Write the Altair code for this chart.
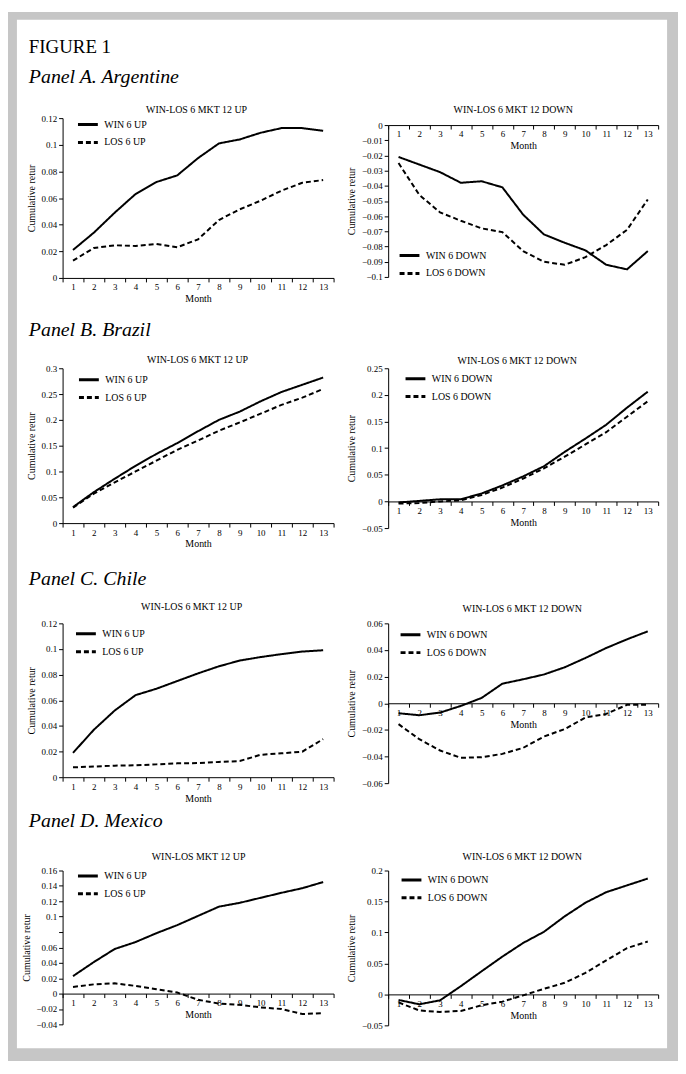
import altair as alt
import pandas as pd

FONT = "Liberation Serif"
FRAME = "#c6c6c6"

months = list(range(1, 14))

# ---- data (cumulative returns by month) ----
arg_up_win = [0.021, 0.034, 0.049, 0.063, 0.072, 0.077, 0.090, 0.101, 0.104, 0.109, 0.1125, 0.1125, 0.1105]
arg_up_los = [0.013, 0.0225, 0.0245, 0.024, 0.0255, 0.023, 0.029, 0.0435, 0.0515, 0.058, 0.0655, 0.0715, 0.0735]
arg_dn_win = [-0.021, -0.026, -0.031, -0.038, -0.037, -0.041, -0.059, -0.072, -0.0775, -0.0825, -0.092, -0.095, -0.083]
arg_dn_los = [-0.025, -0.046, -0.0575, -0.063, -0.068, -0.0705, -0.083, -0.090, -0.092, -0.087, -0.079, -0.069, -0.049]
bra_up_win = [0.031, 0.060, 0.086, 0.111, 0.134, 0.155, 0.178, 0.200, 0.216, 0.236, 0.254, 0.268, 0.282]
bra_up_los = [0.030, 0.057, 0.079, 0.100, 0.121, 0.142, 0.160, 0.179, 0.195, 0.212, 0.229, 0.243, 0.260]
bra_dn_win = [-0.002, 0.001, 0.004, 0.004, 0.015, 0.030, 0.047, 0.066, 0.093, 0.118, 0.144, 0.176, 0.206]
bra_dn_los = [-0.004, -0.003, 0.000, 0.002, 0.012, 0.026, 0.043, 0.062, 0.084, 0.107, 0.130, 0.159, 0.188]
chi_up_win = [0.019, 0.037, 0.052, 0.064, 0.069, 0.075, 0.081, 0.0865, 0.091, 0.0937, 0.096, 0.098, 0.099]
chi_up_los = [0.0077, 0.0083, 0.009, 0.0093, 0.010, 0.0108, 0.011, 0.0119, 0.0126, 0.0175, 0.0186, 0.0199, 0.0297]
chi_dn_win = [-0.0075, -0.009, -0.007, -0.002, 0.004, 0.0147, 0.018, 0.0216, 0.027, 0.034, 0.0415, 0.048, 0.054]
chi_dn_los = [-0.0157, -0.027, -0.0355, -0.041, -0.0405, -0.038, -0.0335, -0.025, -0.0194, -0.0107, -0.008, -0.0012, -0.0012]
mex_up_win = [0.0227, 0.041, 0.058, 0.067, 0.0785, 0.089, 0.101, 0.113, 0.118, 0.1245, 0.131, 0.137, 0.145]
mex_up_los = [0.0086, 0.012, 0.0133, 0.010, 0.0056, 0.0013, -0.008, -0.013, -0.0146, -0.018, -0.020, -0.0266, -0.0253]
mex_dn_win = [-0.009, -0.016, -0.0096, 0.0133, 0.0373, 0.061, 0.083, 0.101, 0.126, 0.148, 0.165, 0.176, 0.187]
mex_dn_los = [-0.013, -0.026, -0.0283, -0.0267, -0.0176, -0.0117, -0.0016, 0.009, 0.0187, 0.0347, 0.055, 0.0747, 0.0853]

# ---- labels ----
up_labels = ["WIN 6 UP", "LOS 6 UP"]
down_labels = ["WIN 6 DOWN", "LOS 6 DOWN"]
panel_titles = ["Panel A. Argentine", "Panel B. Brazil", "Panel C. Chile", "Panel D. Mexico"]
figure_title = "FIGURE 1"
sub_titles = ["WIN-LOS 6 MKT 12 UP", "WIN-LOS 6 MKT 12 DOWN",
              "WIN-LOS 6 MKT 12 UP", "WIN-LOS 6 MKT 12 DOWN",
              "WIN-LOS 6 MKT 12 UP", "WIN-LOS 6 MKT 12 DOWN",
              "WIN-LOS MKT 12 UP", "WIN-LOS 6 MKT 12 DOWN"]

ticks_arg_up = [0, 0.02, 0.04, 0.06, 0.08, 0.1, 0.12]
ticks_arg_dn = [-0.1, -0.09, -0.08, -0.07, -0.06, -0.05, -0.04, -0.03, -0.02, -0.01, 0]
ticks_bra_up = [0, 0.05, 0.1, 0.15, 0.2, 0.25, 0.3]
ticks_bra_dn = [-0.05, 0, 0.05, 0.1, 0.15, 0.2, 0.25]
ticks_chi_up = [0, 0.02, 0.04, 0.06, 0.08, 0.1, 0.12]
ticks_chi_dn = [-0.06, -0.04, -0.02, 0, 0.02, 0.04, 0.06]
ticks_mex_up = [-0.04, -0.02, 0, 0.02, 0.04, 0.06, 0.08, 0.1, 0.12, 0.14, 0.16]
ticks_mex_dn = [-0.05, 0, 0.05, 0.1, 0.15, 0.2]

one = pd.DataFrame({"k": [0]})
LEFT_W, RIGHT_W = 273, 272


def text_layer(txt, x, y, size, align="left", italic=False):
    return alt.Chart(one).mark_text(
        font=FONT, fontSize=size, align=align, baseline="alphabetic",
        color="black", fontStyle="italic" if italic else "normal"
    ).encode(x=alt.value(x), y=alt.value(y), text=alt.value(txt))


def frame_layer(x1, x2, y1, y2):
    return alt.Chart(one).mark_rect(color=FRAME, strokeWidth=0).encode(
        x=alt.value(x1), x2=alt.value(x2), y=alt.value(y1), y2=alt.value(y2))


def panel(win, los, labels, sub_title, ymin, ymax, yticks, width, cell_h,
          r_top, r_h, title_x, title_y, leg_x, leg_y, extra=(), hide=None):
    df = pd.DataFrame({
        "Month": months * 2,
        "value": win + los,
        "series": [labels[0]] * 13 + [labels[1]] * 13,
    })
    r_bot = r_top + r_h
    y0 = r_top + r_h * (ymax - 0) / (ymax - ymin)
    step = width / 13
    x_axis = alt.Axis(
        values=[i + 0.5 for i in range(14)],
        labelExpr="datum.value < 13 ? format(datum.value + 0.5, 'd') : ''",
        labelOffset=step / 2, title="Month", labelFlush=False, labelOverlap=False,
        labelBound=False, offset=y0 - cell_h, tickSize=4, labelPadding=1,
        titlePadding=2, grid=False)
    y_kwargs = dict(values=yticks, format=".2~f", title="Cumulative retur",
                    tickSize=4, labelPadding=2, titlePadding=5, grid=False,
                    labelOverlap=False, labelFlush=False)
    if hide is not None:
        y_kwargs["labelExpr"] = f"abs(datum.value - {hide}) < 1e-9 ? '' : datum.label"
    lines = alt.Chart(df).mark_line(color="black", strokeWidth=2).encode(
        x=alt.X("Month:Q", scale=alt.Scale(domain=[0.5, 13.5], nice=False, zero=False),
                axis=x_axis),
        y=alt.Y("value:Q", scale=alt.Scale(domain=[ymin, ymax], range=[r_bot, r_top],
                                            nice=False, zero=False),
                axis=alt.Axis(**y_kwargs)),
        strokeDash=alt.StrokeDash(
            "series:N",
            scale=alt.Scale(domain=labels, range=[[1, 0], [5, 3]]),
            legend=alt.Legend(
                title=None, orient="none", legendX=leg_x, legendY=leg_y - 4,
                symbolType="stroke", symbolSize=400, symbolStrokeWidth=3,
                symbolStrokeColor="black", labelFont=FONT, labelFontSize=10,
                labelColor="black", labelOffset=5, rowPadding=-11, padding=0)),
    )
    layers = [lines, text_layer(sub_title, title_x, title_y, 10, align="center")]
    layers += list(extra)
    return alt.layer(*layers).properties(width=width, height=cell_h)


# page frame (drawn around the whole figure), relative to first panel
frame = [
    frame_layer(-55, 620, -107, -99),
    frame_layer(-55, 620, 937, 950),
    frame_layer(-55, -46, -107, 950),
    frame_layer(609, 620, -107, 950),
]

argU = panel(arg_up_win, arg_up_los, up_labels, sub_titles[0], 0, 0.12, ticks_arg_up,
             LEFT_W, 164, 0, 161, 135, -5, 14, -1,
             extra=frame + [text_layer(figure_title, -34, -66, 19),
                            text_layer(panel_titles[0], -34, -35, 20, italic=True)])
argD = panel(arg_dn_win, arg_dn_los, down_labels, sub_titles[1], -0.1, 0, ticks_arg_dn,
             RIGHT_W, 164, 7, 153, 126, -5, 10, 131)
braU = panel(bra_up_win, bra_up_los, up_labels, sub_titles[2], 0, 0.3, ticks_bra_up,
             LEFT_W, 169, 0, 156, 136, -5, 15, 4,
             extra=[text_layer(panel_titles[1], -34, -32, 20, italic=True)])
braD = panel(bra_dn_win, bra_dn_los, down_labels, sub_titles[3], -0.05, 0.25, ticks_bra_dn,
             RIGHT_W, 169, 0, 161, 130, -4, 16, 3)
chiU = panel(chi_up_win, chi_up_los, up_labels, sub_titles[4], 0, 0.12, ticks_chi_up,
             LEFT_W, 161, 0, 155, 130, -13, 12, 3,
             extra=[text_layer(panel_titles[2], -34, -39, 20, italic=True)])
chiD = panel(chi_dn_win, chi_dn_los, down_labels, sub_titles[5], -0.06, 0.06, ticks_chi_dn,
             RIGHT_W, 161, 0, 161, 135, -11, 11, 4)
mexU = panel(mex_up_win, mex_up_los, up_labels, sub_titles[6], -0.04, 0.16, ticks_mex_up,
             LEFT_W, 156, 0, 155, 137, -11, 14, -2, hide=0.08,
             extra=[text_layer(panel_titles[3], -34, -44, 20, italic=True)])
mexD = panel(mex_dn_win, mex_dn_los, down_labels, sub_titles[7], -0.05, 0.2, ticks_mex_dn,
             RIGHT_W, 156, 0, 156, 135, -11, 12, 2)

chart = alt.concat(
    argU, argD, braU, braD, chiU, chiD, mexU, mexD,
    columns=2, spacing={"row": 88, "column": 55}, bounds="flush",
).resolve_scale(
    x="independent", y="independent", strokeDash="independent"
).resolve_legend(
    strokeDash="independent"
).properties(
    padding=0, background="white"
).configure_view(
    stroke=None
).configure_axis(
    labelFont=FONT, titleFont=FONT, labelFontSize=9, titleFontSize=10,
    titleFontWeight="normal", labelColor="black", titleColor="black",
    domainColor="black", tickColor="black", domainWidth=1, tickWidth=1,
)

chart.save("out.html", embed_options={"renderer": "svg", "actions": False})
